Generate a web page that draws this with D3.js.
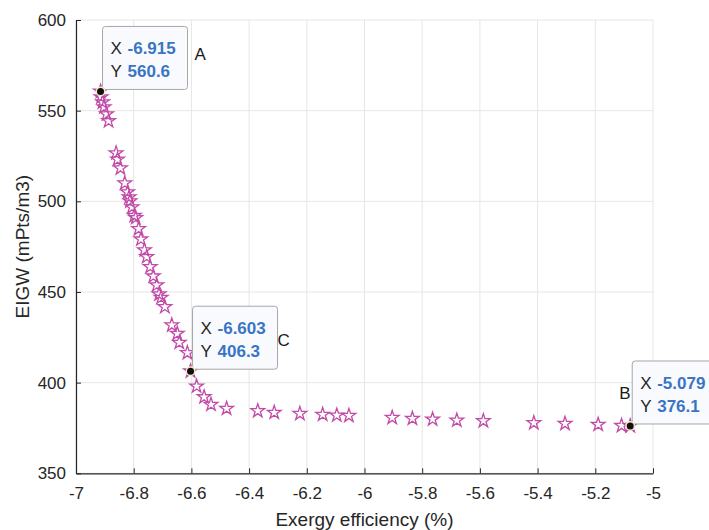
<!DOCTYPE html>
<html>
<head>
<meta charset="utf-8">
<script src="https://cdn.jsdelivr.net/npm/d3@7"></script>
<style>
  body { margin: 0; background: #fff; }
  svg { font-family: "Liberation Sans", Arial, sans-serif; }
  .grid line { stroke: #e6e6e6; stroke-width: 1; }
</style>
</head>
<body>
<script>
// Pareto front values
var exergy = [-6.915, -6.913, -6.908, -6.903, -6.894, -6.887,
  -6.861, -6.856, -6.846, -6.831, -6.821, -6.816, -6.813, -6.806, -6.798, -6.793,
  -6.783, -6.775, -6.763, -6.755, -6.743, -6.732, -6.720, -6.712, -6.705, -6.692,
  -6.668, -6.649, -6.642, -6.614, -6.603, -6.582, -6.556, -6.532, -6.478,
  -6.370, -6.313, -6.224, -6.145, -6.096, -6.054, -5.904, -5.834, -5.764,
  -5.680, -5.588, -5.413, -5.305, -5.190, -5.109, -5.079];
var eigw = [560.6, 557.5, 554.7, 552.0, 548.1, 544.3,
  526.6, 523.1, 518.3, 510.0, 505.1, 502.3, 500.1, 496.8, 492.1, 490.9,
  484.8, 479.1, 473.1, 469.4, 463.9, 458.7, 453.8, 448.8, 446.9, 441.8,
  431.7, 427.1, 422.1, 416.4, 406.3, 398.0, 392.1, 387.9, 385.7,
  384.4, 383.5, 382.9, 382.4, 382.0, 381.8, 380.7, 380.2, 379.8,
  379.2, 378.9, 377.8, 377.4, 376.9, 376.3, 376.1];

// data tips
var tipNames = ["A", "C", "B"];
var tipX = [-6.915, -6.603, -5.079];
var tipY = [560.6, 406.3, 376.1];

var xTicks = [-7, -6.8, -6.6, -6.4, -6.2, -6, -5.8, -5.6, -5.4, -5.2, -5];
var yTicks = [350, 400, 450, 500, 550, 600];

drawChart();

function drawChart(){
  var width = 709, height = 530;
  var pLeft = 76, pRight = 653, pTop = 20, pBottom = 473.3;

  var svg = d3.select("body").append("svg")
      .attr("width", width)
      .attr("height", height);

  var x = d3.scaleLinear().domain([-7, -5]).range([pLeft, pRight]);
  var y = d3.scaleLinear().domain([350, 600]).range([pBottom, pTop]);

  //grid lines
  var grid = svg.append("g").attr("class", "grid");
  grid.selectAll(".gx").data(xTicks).enter().append("line")
      .attr("x1", function(d){ return x(d); })
      .attr("x2", function(d){ return x(d); })
      .attr("y1", pTop).attr("y2", pBottom);
  grid.selectAll(".gy").data(yTicks).enter().append("line")
      .attr("y1", function(d){ return y(d); })
      .attr("y2", function(d){ return y(d); })
      .attr("x1", pLeft).attr("x2", pRight);

  //axes, ticks pointing inward like matlab
  var xAxis = svg.append("g")
      .attr("transform", "translate(0," + pBottom + ")")
      .call(d3.axisBottom(x).tickValues(xTicks).tickSizeInner(-5).tickSizeOuter(0).tickPadding(14)
          .tickFormat(function(d){ return String(d); }));
  var yAxis = svg.append("g")
      .attr("transform", "translate(" + pLeft + ",0)")
      .call(d3.axisLeft(y).tickValues(yTicks).tickSizeInner(-5).tickSizeOuter(0).tickPadding(10));

  [xAxis, yAxis].forEach(function(a){
    a.select(".domain").attr("stroke", "#262626").attr("stroke-width", 1.2);
    a.selectAll(".tick line").attr("stroke", "#262626");
    a.selectAll(".tick text")
      .attr("fill", "#262626")
      .style("font-size", "17px")
      .style("font-family", "Liberation Sans, Arial, sans-serif");
  });

  //axis titles
  svg.append("text")
      .attr("x", (pLeft + pRight) / 2)
      .attr("y", 526)
      .attr("text-anchor", "middle")
      .attr("fill", "#262626")
      .style("font-size", "19px")
      .text("Exergy efficiency (%)");
  svg.append("text")
      .attr("transform", "translate(29," + ((pTop + pBottom) / 2) + ") rotate(-90)")
      .attr("text-anchor", "middle")
      .attr("fill", "#262626")
      .style("font-size", "19px")
      .text("EIGW (mPts/m3)");

  //star markers
  var star = d3.symbol().type(d3.symbolStar).size(58);
  svg.selectAll(".pt")
      .data(exergy)
      .enter()
      .append("path")
      .attr("class", "pt")
      .attr("d", star)
      .attr("transform", function(d, i){
        return "translate(" + x(d) + "," + y(eigw[i]) + ")";
      })
      .attr("fill", "none")
      .attr("stroke", "#c24aa8")
      .attr("stroke-width", 1.3);

  //data tips
  var tipW = 85, tipH = 63;
  var tips = svg.selectAll(".tip")
      .data(tipX)
      .enter()
      .append("g")
      .attr("class", "tip")
      .attr("transform", function(d, i){
        return "translate(" + (x(d) + 2) + "," + (y(tipY[i]) - 2 - tipH) + ")";
      });

  tips.append("rect")
      .attr("width", tipW)
      .attr("height", tipH)
      .attr("rx", 3)
      .attr("fill", "#f8fafd")
      .attr("stroke", "#a6a6a6")
      .attr("stroke-width", 1);

  tips.append("text")
      .attr("x", 8).attr("y", 28)
      .style("font-size", "17px")
      .attr("fill", "#262626")
      .text("X");
  tips.append("text")
      .attr("x", 25).attr("y", 28)
      .style("font-size", "17px")
      .style("font-weight", "bold")
      .attr("fill", "#3a75c4")
      .text(function(d){ return d.toFixed(3); });
  tips.append("text")
      .attr("x", 8).attr("y", 51)
      .style("font-size", "17px")
      .attr("fill", "#262626")
      .text("Y");
  tips.append("text")
      .attr("x", 25).attr("y", 51)
      .style("font-size", "17px")
      .style("font-weight", "bold")
      .attr("fill", "#3a75c4")
      .text(function(d, i){ return tipY[i].toFixed(1); });

  //highlighted points
  tipX.forEach(function(d, i){
    svg.append("circle")
      .attr("cx", x(d)).attr("cy", y(tipY[i]))
      .attr("r", 5)
      .attr("fill", "#f3ecc4");
    svg.append("circle")
      .attr("cx", x(d)).attr("cy", y(tipY[i]))
      .attr("r", 3.5)
      .attr("fill", "#111");
  });

  //point labels
  var labelDx = [94, 87, -11];
  var labelDy = [-37, -31, -33];
  svg.selectAll(".lbl")
      .data(tipNames)
      .enter()
      .append("text")
      .attr("class", "lbl")
      .attr("x", function(d, i){ return x(tipX[i]) + labelDx[i]; })
      .attr("y", function(d, i){ return y(tipY[i]) + labelDy[i] + 6; })
      .attr("text-anchor", "start")
      .attr("fill", "#1a1a1a")
      .style("font-size", "17px")
      .text(function(d){ return d; });
}
</script>
</body>
</html>
